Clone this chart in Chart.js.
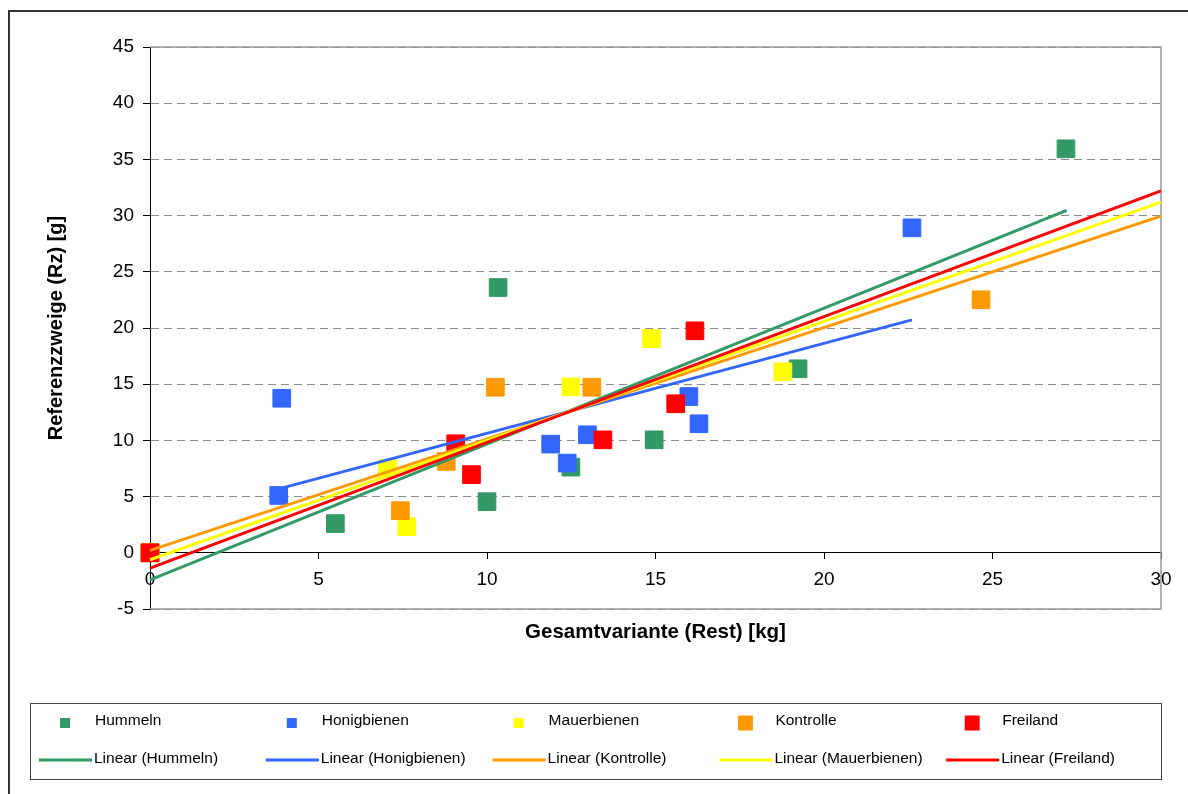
<!DOCTYPE html>
<html>
<head>
<meta charset="utf-8">
<script src="https://cdn.jsdelivr.net/npm/chart.js@4"></script>
<style>
  html, body { margin: 0; padding: 0; background: #fff; }
  canvas { display: block; }
</style>
</head>
<body>
<canvas id="myChart" width="1188" height="794"></canvas>
<script>
// Messwerte: Gesamtvariante (Rest) [kg] -> x, Referenzzweige (Rz) [g] -> y
const hummelnX = [0, 5.5, 10.0, 10.33, 12.49, 14.96, 19.23, 27.18];
const hummelnY = [0, 2.6, 4.55, 23.6, 7.62, 10.05, 16.37, 35.94];
const honigX = [3.82, 3.91, 11.89, 12.38, 12.98, 15.99, 16.29, 22.61];
const honigY = [5.1, 13.75, 9.67, 7.98, 10.5, 13.9, 11.48, 28.91];
const mauerX = [0, 7.05, 7.62, 12.49, 14.88, 18.78];
const mauerY = [0, 7.5, 2.32, 14.76, 19.06, 16.1];
const kontrolleX = [0, 7.43, 8.79, 10.25, 13.11, 24.66];
const kontrolleY = [0, 3.75, 8.13, 14.73, 14.73, 22.51];
const freilandX = [0, 9.07, 9.54, 13.44, 15.6, 16.17];
const freilandY = [0, 9.7, 6.96, 10.05, 13.26, 19.75];

// Trendlinien (Anfang, Ende)
const trendHummeln = [[0, -2.4], [27.2, 30.47]];
const trendHonig = [[3.82, 5.69], [22.61, 20.72]];
const trendKontrolle = [[0, 0.21], [30, 29.95]];
const trendMauer = [[0, -0.62], [30, 31.2]];
const trendFreiland = [[0, -1.36], [30, 32.2]];

const xMin = 0, xMax = 30, xStep = 5;
const yMin = -5, yMax = 45, yStep = 5;

const GREEN = "#339966", BLUE = "#3366FF", YELLOW = "#FFFF00", ORANGE = "#FF9900", RED = "#FF0000";
const FONT = "'Liberation Sans', Arial, sans-serif";

function pts(xs, ys) {
    return xs.map((x, i) => ({ x: x, y: ys[i] }));
}
function line(t) {
    return t.map(p => ({ x: p[0], y: p[1] }));
}
function scatterSet(label, xs, ys, color) {
    return {
        label: label,
        data: pts(xs, ys),
        pointStyle: "rect",
        pointRadius: 12.5,
        pointHoverRadius: 12.5,
        pointBackgroundColor: color,
        pointBorderColor: color,
        pointBorderWidth: 1,
        backgroundColor: color,
        borderColor: color,
        showLine: false,
        clip: false
    };
}
function trendSet(label, t, color) {
    return {
        label: label,
        data: line(t),
        showLine: true,
        borderColor: color,
        backgroundColor: color,
        borderWidth: 3,
        pointRadius: 0,
        pointHoverRadius: 0,
        fill: false,
        clip: false,
        isTrend: true
    };
}

var datasets = [
    scatterSet("Hummeln", hummelnX, hummelnY, GREEN),
    scatterSet("Honigbienen", honigX, honigY, BLUE),
    scatterSet("Mauerbienen", mauerX, mauerY, YELLOW),
    scatterSet("Kontrolle", kontrolleX, kontrolleY, ORANGE),
    scatterSet("Freiland", freilandX, freilandY, RED),
    trendSet("Linear (Hummeln)", trendHummeln, GREEN),
    trendSet("Linear (Honigbienen)", trendHonig, BLUE),
    trendSet("Linear (Kontrolle)", trendKontrolle, ORANGE),
    trendSet("Linear (Mauerbienen)", trendMauer, YELLOW),
    trendSet("Linear (Freiland)", trendFreiland, RED)
];
// later datasets on top
datasets.forEach((d, i) => { d.order = datasets.length - i; });

const legendMarkerSize = [10, 10, 10, 15, 15];

const framePlugin = {
    id: "frame",
    beforeDatasetsDraw(chart) {
        const ctx = chart.ctx, a = chart.chartArea;
        ctx.save();
        ctx.strokeStyle = "#999999";
        ctx.lineWidth = 1.5;
        ctx.beginPath();
        ctx.moveTo(a.left, a.top);
        ctx.lineTo(a.right, a.top);
        ctx.lineTo(a.right, a.bottom);
        ctx.lineTo(a.left, a.bottom);
        ctx.stroke();
        ctx.restore();
    },
    afterDraw(chart) {
        const ctx = chart.ctx;
        ctx.save();
        // aeusserer Rahmen
        ctx.strokeStyle = "#333333";
        ctx.lineWidth = 2;
        ctx.strokeRect(9, 11, 1200, 800);

        // Legende
        ctx.strokeStyle = "#444444";
        ctx.lineWidth = 1;
        ctx.strokeRect(30.5, 703.5, 1131, 76);
        ctx.font = "15.5px " + FONT;
        ctx.fillStyle = "#000";
        ctx.textBaseline = "middle";
        ctx.textAlign = "left";
        const ds = chart.data.datasets;
        const scat = ds.filter(d => !d.isTrend);
        const trends = ds.filter(d => d.isTrend);
        scat.forEach((d, i) => {
            const base = 30 + i * 226.8;
            const s = legendMarkerSize[i];
            ctx.fillStyle = d.pointBackgroundColor;
            ctx.fillRect(base + 35 - s / 2, 723 - s / 2, s, s);
            ctx.fillStyle = "#000";
            ctx.fillText(d.label, base + 65, 721);
        });
        trends.forEach((d, i) => {
            const base = 30 + i * 226.8;
            ctx.strokeStyle = d.borderColor;
            ctx.lineWidth = 3;
            ctx.beginPath();
            ctx.moveTo(base + 9, 760);
            ctx.lineTo(base + 62, 760);
            ctx.stroke();
            ctx.fillStyle = "#000";
            ctx.fillText(d.label, base + 64, 759);
        });
        ctx.restore();
    }
};

var ctx = document.getElementById("myChart").getContext("2d");
var myChart = new Chart(ctx, {
    type: "scatter",
    data: { datasets: datasets },
    options: {
        responsive: false,
        animation: false,
        events: [],
        layout: {
            padding: { left: 0, top: 47, right: 27, bottom: 185 }
        },
        plugins: {
            legend: { display: false },
            tooltip: { enabled: false }
        },
        scales: {
            x: {
                type: "linear",
                min: xMin,
                max: xMax,
                position: { y: 0 },
                ticks: {
                    stepSize: xStep,
                    color: "#000",
                    padding: 10,
                    maxRotation: 0,
                    font: { family: FONT, size: 19 }
                },
                grid: {
                    drawOnChartArea: false,
                    drawTicks: true,
                    tickLength: 6,
                    color: "#000",
                    tickColor: "#000"
                },
                border: { display: true, color: "#000", width: 1 },
                title: {
                    display: true,
                    text: "Gesamtvariante (Rest) [kg]",
                    color: "#000",
                    padding: { top: 0, bottom: 0 },
                    font: { family: FONT, size: 20.5, weight: "bold" }
                },
                afterFit: function (scale) { scale.height = 92; }
            },
            y: {
                type: "linear",
                min: yMin,
                max: yMax,
                position: "left",
                ticks: {
                    stepSize: yStep,
                    color: "#000",
                    padding: 9,
                    font: { family: FONT, size: 19 }
                },
                grid: {
                    color: "#8c8c8c",
                    tickColor: "#000",
                    tickLength: 7,
                    lineWidth: 1
                },
                border: { display: true, color: "#000", width: 1, dash: [8, 5] },
                title: {
                    display: true,
                    text: "Referenzzweige (Rz) [g]",
                    color: "#000",
                    padding: { top: 44, bottom: 0 },
                    font: { family: FONT, size: 20, weight: "bold" }
                },
                afterFit: function (scale) { scale.width = 150; }
            }
        }
    },
    plugins: [framePlugin]
});
</script>
</body>
</html>
